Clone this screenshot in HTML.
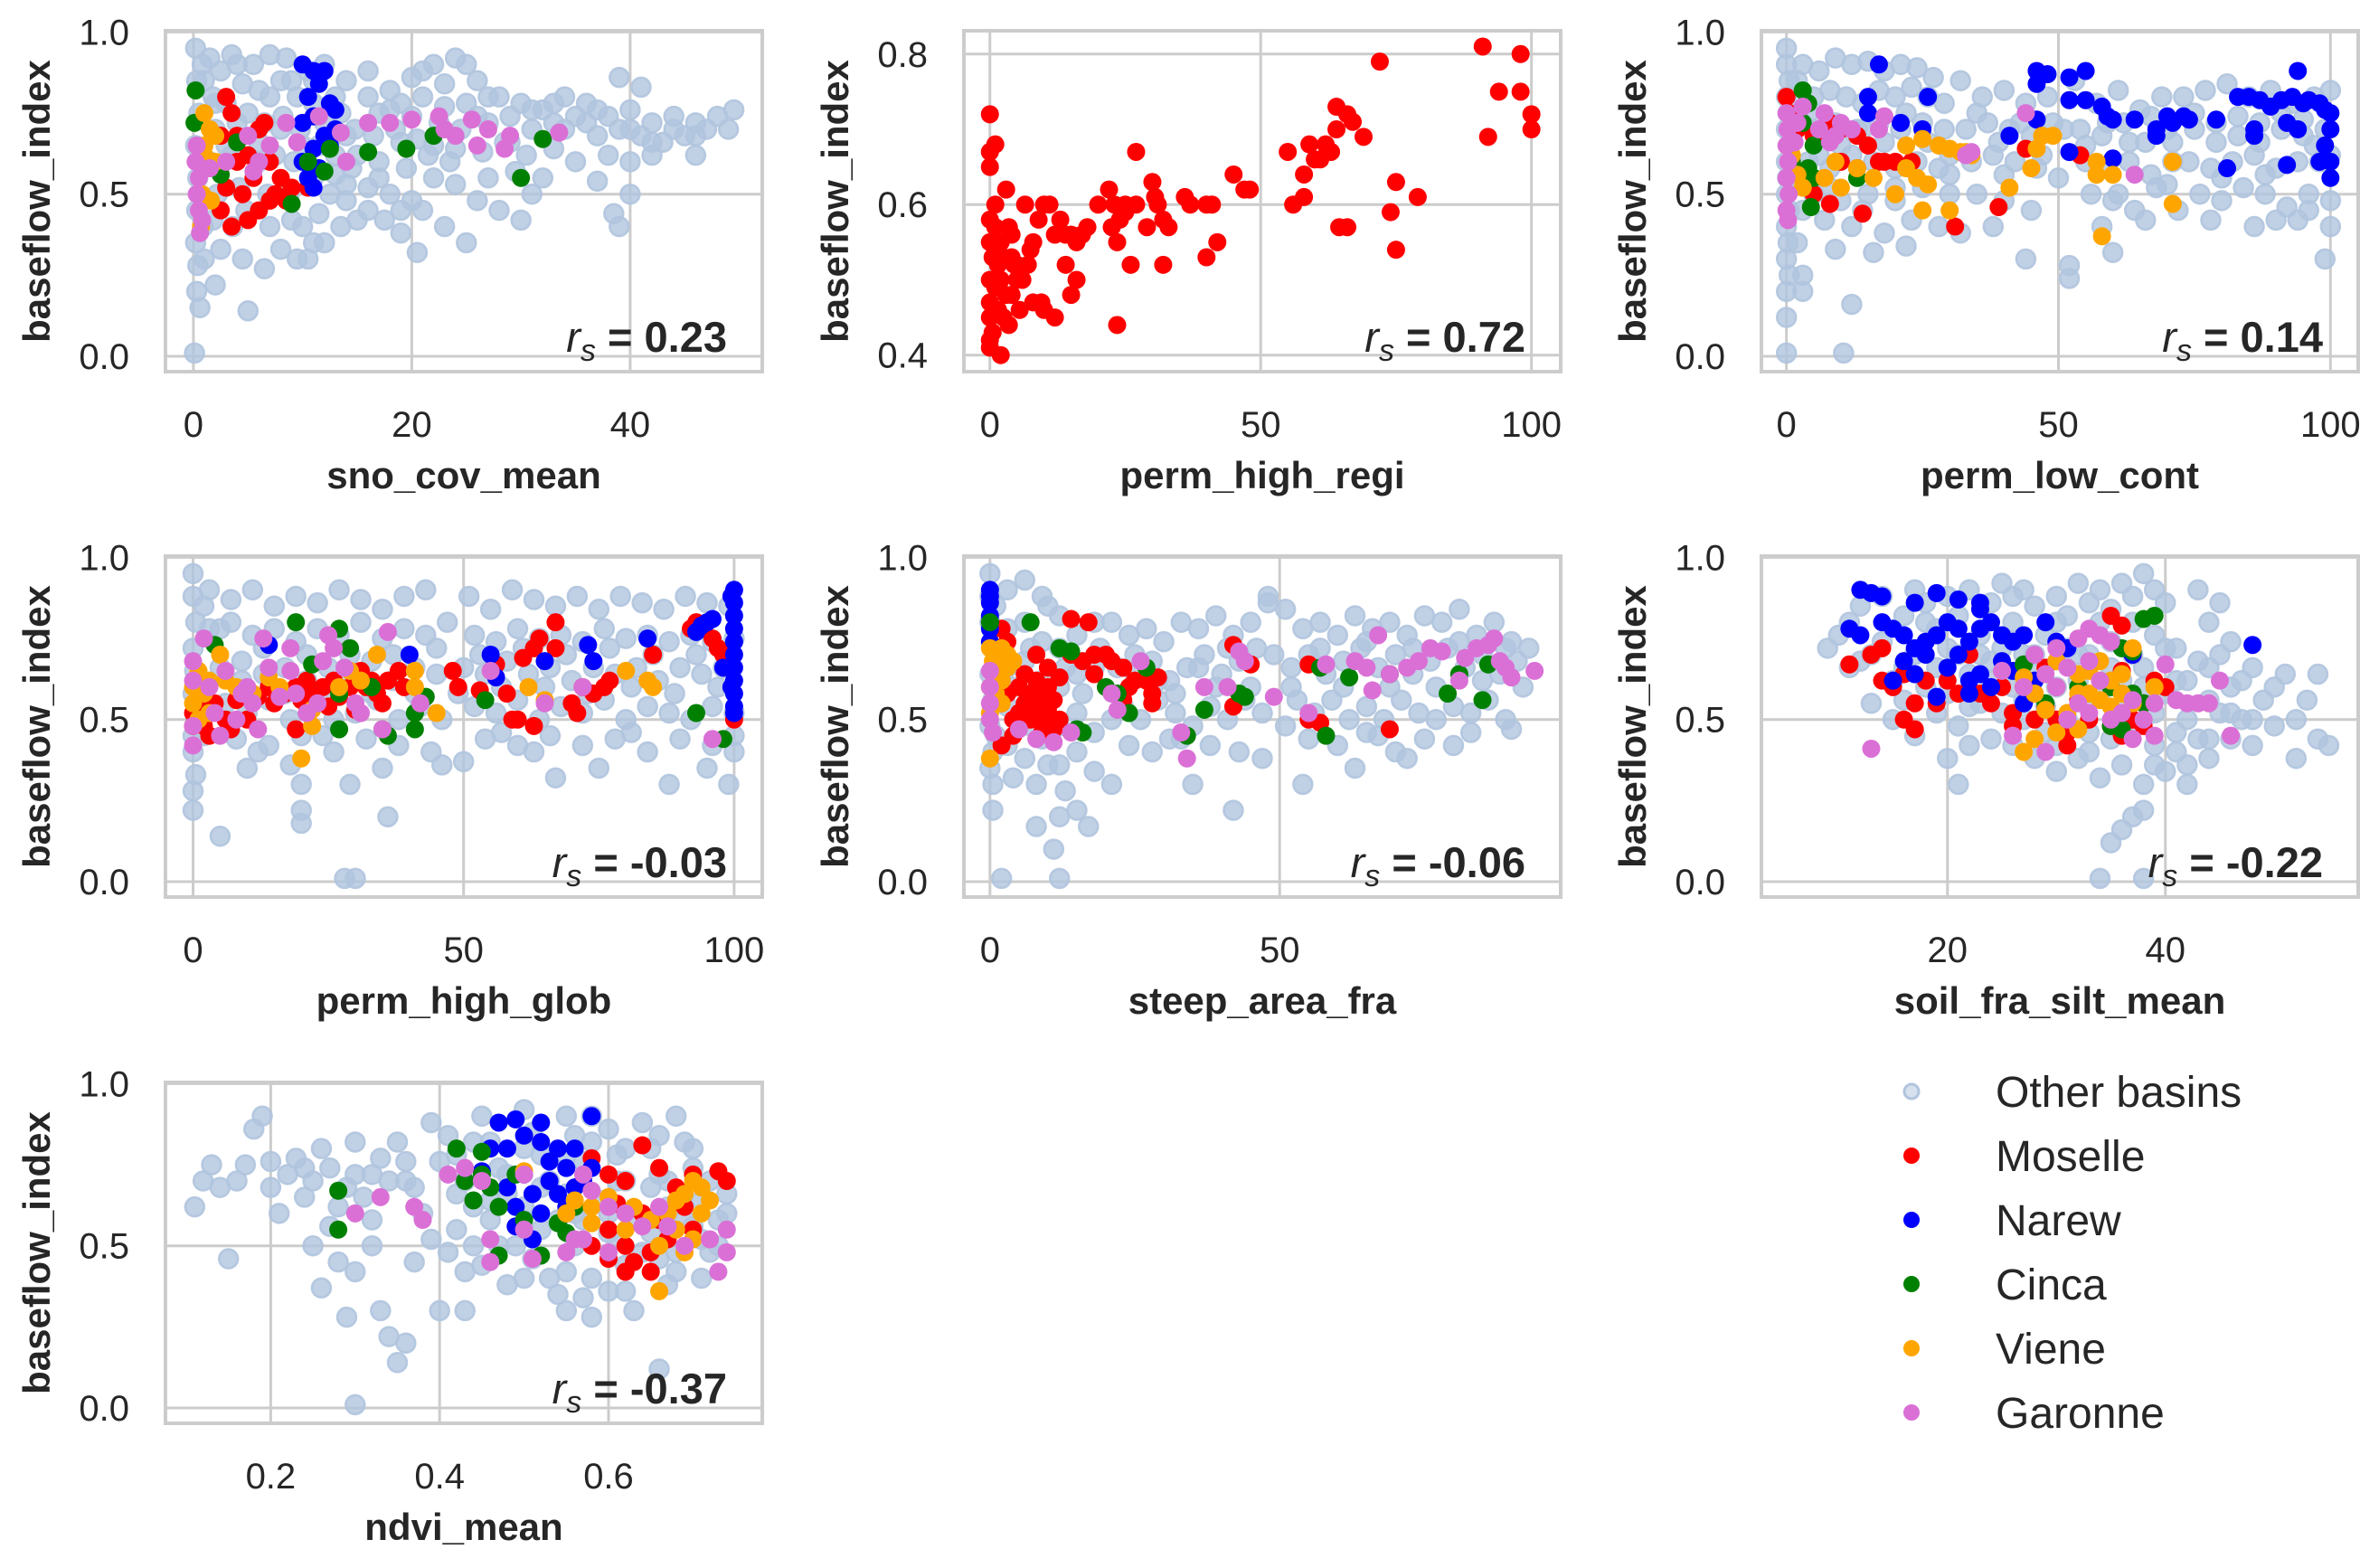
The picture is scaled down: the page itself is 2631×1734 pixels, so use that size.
<!DOCTYPE html>
<html><head><meta charset="utf-8"><style>
html,body{margin:0;padding:0;background:#fff;}
svg{display:block;}
text{font-family:"Liberation Sans",Arial,sans-serif;fill:#262626;}
</style></head><body>
<svg id="fig" width="2631" height="1734" viewBox="0 0 2631 1734" xmlns="http://www.w3.org/2000/svg"></svg>
<script>
// ---------- data (x,y pairs) ----------
const p1Gray=[[0.2,0.95],[0.3,0.85],[0.5,0.75],[0.2,0.65],[0.4,0.55],[0.3,0.45],[0.2,0.35],[0.4,0.28],[0.3,0.2],[0.6,0.15],[0.1,0.01],[0.8,0.9],[0.9,0.4],[1.5,0.92],[2.5,0.88],[3.5,0.93],[1.8,0.8],[3,0.78],[4.5,0.84],[2,0.7],[4,0.72],[1.5,0.6],[3.5,0.62],[2.2,0.5],[4.2,0.52],[1.8,0.42],[3.6,0.4],[2.5,0.33],[4.5,0.3],[5,0.14],[4.8,0.45],[5.5,0.9],[7,0.93],[8.5,0.92],[6,0.82],[8,0.85],[9.5,0.8],[6.5,0.72],[8.2,0.74],[9.8,0.7],[6,0.6],[7.5,0.62],[9.2,0.6],[6.8,0.5],[8.8,0.5],[7,0.4],[9,0.42],[8,0.33],[6.5,0.27],[9.5,0.3],[10.5,0.88],[12,0.9],[14,0.85],[11,0.78],[13.5,0.75],[14.8,0.7],[11.5,0.65],[13,0.62],[14.5,0.58],[11,0.55],[12.5,0.5],[14,0.48],[11.5,0.44],[13.5,0.4],[12,0.35],[15,0.42],[10.5,0.3],[16,0.88],[18,0.82],[20,0.86],[22,0.9],[24,0.92],[25,0.9],[17,0.75],[19,0.78],[21,0.8],[23,0.77],[16.5,0.68],[18.5,0.7],[20.5,0.67],[22.5,0.72],[24.5,0.7],[17,0.6],[19.5,0.58],[21.5,0.62],[23.5,0.6],[16,0.52],[18,0.5],[20,0.48],[22,0.55],[24,0.53],[17.5,0.42],[19,0.38],[21,0.45],[23,0.4],[25,0.35],[20.5,0.32],[16,0.45],[26,0.85],[28,0.8],[30,0.78],[32,0.76],[34,0.8],[27,0.72],[29,0.74],[31,0.7],[33,0.72],[35,0.74],[26.5,0.63],[28.5,0.66],[30.5,0.62],[33,0.64],[27,0.55],[29.5,0.57],[32,0.55],[26,0.48],[28,0.45],[30,0.42],[35,0.6],[31,0.5],[36,0.78],[38,0.74],[40,0.76],[42,0.72],[44,0.7],[46,0.72],[48,0.74],[49.5,0.76],[37,0.68],[39,0.7],[41,0.68],[43,0.66],[45,0.68],[47,0.7],[49,0.7],[38,0.62],[40,0.6],[42,0.62],[46,0.62],[39,0.86],[41,0.83],[40,0.5],[37,0.54],[39,0.4],[38.5,0.44]];
const p1Gray2=[[1,0.85],[2,0.78],[3,0.65],[4,0.9],[5,0.75],[6,0.66],[7,0.8],[8,0.7],[9,0.85],[10,0.65],[11,0.85],[12,0.72],[13,0.8],[14,0.68],[15,0.62],[14,0.53],[16,0.8],[18,0.76],[19,0.66],[20,0.74],[21,0.88],[22,0.65],[23,0.84],[25,0.78],[24,0.64],[26,0.74],[27,0.8],[29,0.66],[31,0.76],[33,0.78],[34,0.7],[36,0.72],[37,0.76],[40,0.7],[42,0.66],[44,0.74],[46,0.68],[1,0.3],[2,0.22],[13,0.56],[17,0.55],[19,0.45],[10,0.4],[11,0.35]];
const p1Red=[[3,0.8],[3.5,0.75],[2.5,0.68],[4,0.6],[3,0.52],[2.5,0.45],[4.5,0.5],[5,0.62],[6,0.7],[6.5,0.72],[5.5,0.55],[7,0.6],[7.5,0.5],[6,0.45],[8,0.55],[8.5,0.48],[9,0.52],[5,0.42],[3.5,0.4],[10.5,0.52],[4,0.68],[7,0.48]];
const p1Blue=[[10,0.9],[11,0.88],[12,0.88],[11.5,0.84],[10.5,0.8],[12.5,0.78],[11,0.74],[13,0.76],[10,0.72],[12,0.68],[11,0.64],[10,0.6],[12.5,0.65],[11.5,0.58],[10.5,0.55],[11,0.52],[13,0.7]];
const p1Green=[[0.2,0.82],[0.1,0.72],[2.5,0.56],[9,0.47],[10.5,0.6],[12,0.57],[12.5,0.64],[16,0.63],[19.5,0.64],[22,0.68],[30,0.55],[32,0.67],[4,0.66]];
const p1Orange=[[1,0.75],[1.5,0.7],[1,0.65],[2,0.68],[1.2,0.58],[2,0.6],[0.8,0.5],[1.6,0.48],[0.7,0.4],[1,0.62]];
const p1Pink=[[0.3,0.65],[0.2,0.6],[0.5,0.55],[0.3,0.5],[0.5,0.45],[0.8,0.42],[1.5,0.58],[3,0.6],[5.5,0.57],[6,0.6],[5,0.68],[7,0.65],[8.5,0.72],[9.5,0.66],[11.5,0.74],[13.5,0.69],[14,0.6],[16,0.72],[18,0.72],[20,0.73],[22.5,0.74],[23,0.7],[24,0.68],[25.5,0.73],[26,0.65],[27,0.7],[28.5,0.64],[29,0.68],[33.5,0.69],[0.6,0.38]];

const p2Red=[[0,0.72],[0,0.67],[0,0.65],[1,0.68],[1,0.6],[0,0.58],[1,0.57],[0,0.55],[0.5,0.53],[1.5,0.52],[0,0.5],[1,0.49],[0,0.47],[1.5,0.46],[0,0.45],[0.5,0.43],[0,0.42],[0,0.41],[2,0.4],[2,0.55],[2.5,0.53],[2,0.5],[3,0.48],[2.5,0.45],[3.5,0.44],[3.5,0.57],[4,0.56],[4.5,0.52],[5,0.52],[4,0.48],[5,0.5],[6,0.5],[7,0.52],[7.5,0.54],[8,0.55],[5.5,0.46],[8,0.47],[9.5,0.47],[9,0.58],[10,0.6],[11,0.6],[12,0.56],[13,0.58],[14,0.56],[15,0.56],[16,0.55],[14,0.52],[16,0.5],[17,0.56],[18,0.57],[20,0.6],[22,0.62],[23,0.6],[24,0.58],[25,0.6],[22.5,0.57],[23.5,0.55],[25,0.59],[27,0.6],[27,0.67],[29,0.57],[30.5,0.61],[30,0.63],[31,0.6],[32,0.58],[33,0.57],[26,0.52],[32,0.52],[40,0.53],[42,0.55],[37,0.6],[40,0.6],[41,0.6],[36,0.61],[45,0.64],[48,0.62],[47,0.62],[23.5,0.44],[12,0.45],[10,0.46],[15,0.48],[55,0.67],[56,0.6],[58,0.61],[59,0.68],[60,0.66],[61,0.66],[58,0.64],[62,0.68],[63,0.67],[64,0.73],[64,0.7],[66,0.72],[67,0.71],[69,0.69],[72,0.79],[64.5,0.57],[66,0.57],[74,0.59],[75,0.63],[75,0.54],[79,0.61],[91,0.81],[92,0.69],[94,0.75],[98,0.8],[98,0.75],[100,0.72],[100,0.7],[3,0.62],[6.5,0.6],[4,0.53]];

const p3Gray=[[0,0.95],[0,0.9],[0.5,0.85],[0,0.8],[0.3,0.75],[0,0.7],[0.5,0.65],[0,0.6],[0.2,0.55],[0,0.5],[0.5,0.45],[0,0.4],[0.3,0.35],[0,0.3],[0.5,0.25],[0,0.2],[0,0.12],[0,0.01],[10.5,0.01],[3,0.2],[3,0.25],[12,0.16],[3,0.9],[6,0.88],[9,0.92],[12,0.9],[15,0.91],[18,0.88],[21,0.9],[24,0.89],[27,0.86],[5,0.8],[8,0.82],[11,0.8],[14,0.78],[17,0.82],[20,0.8],[23,0.83],[26,0.8],[29,0.78],[5,0.7],[9,0.72],[13,0.7],[17,0.72],[21,0.7],[25,0.72],[29,0.7],[4,0.6],[8,0.58],[12,0.62],[16,0.6],[20,0.58],[24,0.6],[28,0.58],[5,0.5],[10,0.48],[15,0.5],[20,0.48],[25,0.52],[30,0.5],[7,0.42],[12,0.4],[18,0.38],[23,0.42],[28,0.4],[9,0.33],[16,0.32],[22,0.34],[32,0.85],[36,0.8],[40,0.82],[44,0.78],[48,0.8],[33,0.7],[37,0.72],[41,0.7],[45,0.68],[49,0.72],[34,0.6],[38,0.62],[42,0.6],[46,0.58],[35,0.5],[40,0.48],[45,0.45],[38,0.4],[32,0.38],[44,0.3],[52,0.28],[52,0.24],[53,0.85],[57,0.78],[61,0.82],[65,0.76],[69,0.8],[54,0.7],[58,0.68],[62,0.72],[66,0.66],[70,0.7],[55,0.6],[59,0.58],[63,0.6],[67,0.56],[71,0.6],[56,0.5],[60,0.48],[64,0.45],[68,0.52],[58,0.4],[66,0.42],[60,0.32],[73,0.8],[77,0.82],[81,0.84],[85,0.8],[89,0.82],[93,0.78],[97,0.8],[100,0.82],[75,0.7],[79,0.72],[83,0.68],[87,0.72],[91,0.7],[95,0.68],[99,0.7],[74,0.6],[78,0.58],[82,0.6],[86,0.62],[90,0.58],[94,0.6],[98,0.6],[76,0.5],[80,0.48],[84,0.52],[88,0.5],[92,0.46],[96,0.5],[100,0.48],[78,0.42],[86,0.4],[94,0.42],[100,0.4],[99,0.3],[90,0.42],[72,0.45]];
const p3Gray2=[[2,0.85],[4,0.75],[6,0.62],[8,0.52],[10,0.65],[14,0.7],[18,0.66],[22,0.75],[26,0.66],[30,0.62],[35,0.75],[39,0.66],[43,0.72],[47,0.62],[51,0.7],[55,0.65],[59,0.72],[63,0.66],[67,0.74],[71,0.66],[75,0.75],[79,0.66],[83,0.74],[87,0.66],[91,0.75],[95,0.73],[97,0.65],[100,0.62],[88,0.56],[80,0.55],[70,0.53],[50,0.55],[40,0.56],[30,0.56],[20,0.52],[14,0.45],[3,0.45],[2,0.35],[61,0.5],[96,0.45]];
const p3Red=[[0,0.8],[0.5,0.75],[2,0.7],[5,0.68],[8,0.72],[10,0.7],[13,0.68],[15,0.65],[10,0.6],[13,0.58],[17,0.6],[5,0.5],[8,0.47],[14,0.44],[20,0.6],[23,0.6],[44,0.64],[54,0.62],[39,0.46],[31,0.4],[18,0.6]];
const p3Blue=[[17,0.9],[26,0.8],[21,0.72],[15,0.75],[15,0.8],[46,0.88],[48,0.87],[52,0.86],[55,0.88],[46,0.84],[52,0.79],[55,0.79],[58,0.77],[59,0.74],[60,0.73],[64,0.73],[70,0.74],[71,0.72],[73,0.74],[74,0.73],[79,0.73],[83,0.8],[85,0.8],[87,0.79],[89,0.77],[91,0.79],[93,0.8],[95,0.78],[96,0.79],[98,0.78],[99,0.76],[100,0.75],[94,0.88],[100,0.7],[99,0.65],[100,0.6],[100,0.55],[98,0.6],[94,0.7],[92,0.72],[68,0.68],[68,0.7],[86,0.7],[86,0.68],[41,0.68],[52,0.63],[60,0.61],[81,0.58],[92,0.59],[46,0.73],[25,0.7]];
const p3Green=[[3,0.82],[4,0.78],[3,0.72],[5,0.65],[4,0.58],[5,0.55],[4.5,0.46],[13,0.55],[1,0.6]];
const p3Orange=[[1,0.62],[2,0.56],[3,0.52],[7,0.55],[9,0.6],[10,0.52],[13,0.58],[16,0.55],[22,0.58],[24,0.55],[26,0.53],[22,0.65],[25,0.67],[28,0.65],[30,0.64],[32,0.63],[34,0.62],[20,0.5],[25,0.45],[30,0.45],[41,0.52],[45,0.58],[46,0.64],[47,0.68],[49,0.68],[57,0.6],[57,0.56],[60,0.56],[71,0.6],[71,0.47],[58,0.37],[33,0.63]];
const p3Pink=[[0,0.75],[0.2,0.7],[0,0.65],[0.3,0.6],[0,0.55],[0.4,0.5],[0,0.45],[0.3,0.42],[2,0.72],[3,0.77],[6,0.7],[7,0.75],[9,0.68],[10,0.72],[12,0.7],[17,0.7],[18,0.74],[33,0.62],[34,0.63],[44,0.75],[64,0.56],[1.5,0.66],[8,0.66]];

const p4Gray=[[0,0.95],[0,0.88],[0.5,0.8],[0,0.72],[0.3,0.65],[0,0.58],[0.5,0.5],[0,0.45],[0,0.4],[0.5,0.33],[0,0.28],[0,0.22],[5,0.14],[28,0.01],[30,0.01],[20,0.18],[20,0.22],[29,0.3],[20,0.3],[36,0.2],[3,0.9],[7,0.87],[11,0.9],[15,0.85],[19,0.88],[23,0.86],[27,0.9],[31,0.87],[35,0.84],[39,0.88],[43,0.9],[3,0.78],[7,0.8],[11,0.76],[15,0.78],[19,0.74],[23,0.78],[27,0.76],[31,0.8],[35,0.75],[39,0.78],[43,0.76],[47,0.8],[5,0.66],[9,0.68],[13,0.64],[17,0.66],[21,0.62],[25,0.66],[29,0.64],[33,0.68],[37,0.62],[41,0.66],[45,0.64],[6,0.55],[10,0.52],[14,0.56],[18,0.5],[22,0.54],[26,0.5],[30,0.52],[34,0.56],[38,0.5],[42,0.54],[46,0.5],[8,0.44],[14,0.42],[20,0.45],[26,0.4],[32,0.44],[38,0.42],[44,0.4],[10,0.35],[18,0.36],[35,0.35],[46,0.36],[51,0.88],[55,0.84],[59,0.9],[63,0.87],[67,0.85],[71,0.88],[75,0.84],[79,0.88],[83,0.86],[87,0.84],[91,0.88],[95,0.86],[99,0.85],[52,0.76],[56,0.74],[60,0.78],[64,0.75],[68,0.76],[72,0.74],[76,0.78],[80,0.75],[84,0.76],[88,0.74],[92,0.76],[96,0.74],[50,0.66],[54,0.64],[58,0.68],[62,0.64],[66,0.66],[70,0.62],[74,0.66],[78,0.64],[82,0.66],[86,0.62],[90,0.66],[94,0.64],[98,0.66],[52,0.54],[56,0.52],[60,0.56],[64,0.5],[68,0.54],[72,0.52],[76,0.56],[80,0.5],[84,0.54],[88,0.52],[92,0.5],[96,0.54],[100,0.52],[54,0.44],[60,0.42],[66,0.45],[72,0.42],[78,0.44],[84,0.4],[90,0.44],[96,0.42],[100,0.4],[50,0.37],[67,0.32],[75,0.35],[88,0.3],[95,0.35],[99,0.3]];
const p4Gray2=[[2,0.85],[1,0.62],[2,0.45],[5,0.78],[9,0.62],[13,0.72],[17,0.58],[21,0.7],[25,0.58],[29,0.7],[33,0.58],[37,0.7],[41,0.58],[45,0.72],[49,0.58],[53,0.7],[57,0.6],[61,0.72],[65,0.6],[69,0.7],[73,0.58],[77,0.72],[81,0.6],[85,0.7],[89,0.58],[93,0.7],[97,0.6],[100,0.75],[100,0.45],[57,0.46],[63,0.4],[81,0.46],[24,0.45],[12,0.4]];
const p4Red=[[0,0.48],[0,0.52],[1,0.55],[2,0.48],[3,0.45],[4,0.55],[6,0.5],[7,0.47],[8,0.56],[10,0.5],[12,0.57],[14,0.6],[15,0.55],[17,0.58],[19,0.6],[20,0.56],[21,0.62],[22,0.58],[24,0.6],[25,0.54],[26,0.62],[27,0.57],[29,0.6],[31,0.65],[32,0.6],[33,0.62],[34,0.58],[35,0.55],[36,0.62],[38,0.65],[39,0.6],[19,0.47],[30,0.53],[48,0.65],[49,0.6],[53,0.59],[56,0.67],[58,0.58],[60,0.5],[61,0.69],[63,0.72],[64,0.75],[67,0.72],[67,0.8],[70,0.55],[71,0.52],[72,0.6],[74,0.58],[76,0.6],[77,0.62],[85,0.7],[63,0.48],[92,0.78],[93,0.8],[96,0.75],[97,0.72],[98,0.7],[100,0.5],[59,0.5]];
const p4Blue=[[100,0.9],[100,0.86],[100,0.82],[100,0.78],[100,0.74],[100,0.7],[100,0.66],[100,0.62],[100,0.58],[100,0.54],[100,0.52],[99.5,0.88],[99.5,0.6],[95,0.8],[96,0.81],[94,0.79],[93,0.77],[84,0.75],[73,0.73],[74,0.68],[55,0.7],[56,0.63],[65,0.68],[14,0.73],[40,0.7],[98,0.66]];
const p4Green=[[4,0.73],[19,0.8],[27,0.78],[29,0.72],[22,0.67],[27,0.58],[33,0.6],[35,0.47],[36,0.45],[41,0.52],[41,0.47],[43,0.57],[54,0.56],[27,0.47],[93,0.52],[98,0.44]];
const p4Orange=[[0,0.6],[0,0.55],[1,0.65],[2,0.58],[3,0.62],[1,0.5],[3,0.52],[5,0.7],[6,0.62],[8,0.6],[11,0.58],[14,0.63],[16,0.6],[22,0.53],[22,0.48],[27,0.6],[29,0.65],[31,0.62],[34,0.7],[41,0.65],[41,0.6],[45,0.52],[62,0.6],[65,0.56],[80,0.65],[84,0.62],[85,0.6],[20,0.38]];
const p4Pink=[[0,0.68],[0,0.62],[0,0.48],[0,0.42],[2,0.75],[3,0.6],[4,0.52],[5,0.45],[6,0.65],[8,0.5],[9,0.58],[10,0.6],[11,0.55],[12,0.47],[13,0.75],[14,0.66],[16,0.57],[18,0.72],[18,0.65],[19,0.58],[21,0.52],[23,0.55],[24,0.68],[25,0.76],[26,0.72],[28,0.66],[30,0.55],[31,0.52],[35,0.47],[36,0.77],[42,0.55],[55,0.65],[65,0.55],[72,0.6],[96,0.44]];

const p5Gray=[[0,0.95],[0,0.88],[0,0.8],[0.5,0.72],[0,0.64],[0.5,0.56],[0,0.48],[0.5,0.4],[0,0.35],[0.5,0.3],[0.5,0.22],[2,0.01],[12,0.01],[8,0.17],[11,0.1],[12,0.2],[15,0.22],[17,0.17],[3,0.9],[6,0.93],[9,0.88],[12,0.82],[3,0.78],[6,0.8],[9,0.74],[12,0.72],[15,0.76],[18,0.8],[3,0.66],[6,0.68],[9,0.62],[12,0.6],[15,0.64],[18,0.66],[3,0.54],[6,0.5],[9,0.56],[12,0.48],[15,0.52],[18,0.46],[3,0.42],[6,0.38],[9,0.44],[12,0.36],[15,0.4],[18,0.34],[4,0.32],[8,0.3],[13,0.28],[21,0.3],[21,0.8],[24,0.76],[27,0.78],[30,0.74],[33,0.8],[36,0.78],[39,0.82],[42,0.76],[45,0.8],[48,0.88],[22,0.66],[25,0.64],[28,0.68],[31,0.62],[34,0.66],[37,0.7],[40,0.64],[43,0.68],[46,0.72],[23,0.54],[26,0.5],[29,0.56],[32,0.52],[35,0.48],[38,0.54],[41,0.5],[44,0.56],[47,0.52],[24,0.42],[28,0.4],[33,0.44],[38,0.42],[43,0.4],[47,0.38],[35,0.3],[42,0.22],[51,0.84],[54,0.78],[57,0.8],[60,0.76],[63,0.82],[66,0.78],[69,0.8],[72,0.76],[75,0.82],[78,0.8],[81,0.84],[84,0.76],[87,0.8],[90,0.74],[93,0.72],[52,0.66],[55,0.7],[58,0.64],[61,0.68],[64,0.72],[67,0.66],[70,0.7],[73,0.64],[76,0.68],[79,0.72],[82,0.66],[85,0.7],[88,0.64],[91,0.68],[53,0.56],[56,0.52],[59,0.56],[62,0.5],[65,0.54],[68,0.5],[71,0.56],[74,0.52],[77,0.5],[80,0.54],[83,0.52],[86,0.56],[89,0.5],[55,0.44],[60,0.42],[65,0.46],[70,0.4],[75,0.44],[80,0.42],[54,0.3],[63,0.35],[72,0.38],[48,0.86],[90,0.47]];
const p5Gray2=[[1,0.85],[2,0.7],[1,0.45],[4,0.6],[7,0.72],[10,0.85],[13,0.66],[16,0.58],[19,0.72],[21,0.5],[25,0.7],[29,0.62],[32,0.58],[36,0.66],[39,0.6],[41,0.72],[45,0.6],[49,0.7],[52,0.6],[57,0.72],[61,0.6],[65,0.74],[69,0.6],[73,0.72],[77,0.6],[81,0.74],[85,0.62],[89,0.72],[92,0.6],[31,0.44],[51,0.48],[67,0.45],[83,0.46],[10,0.36],[7,0.48]];
const p5Red=[[2,0.78],[3,0.74],[2,0.62],[2,0.55],[3,0.58],[4,0.5],[5,0.6],[6,0.55],[5,0.52],[6,0.64],[7,0.58],[7,0.5],[8,0.62],[8,0.54],[9,0.58],[9,0.5],[10,0.6],[10,0.53],[11,0.56],[12,0.63],[12,0.5],[4,0.45],[2,0.42],[8,0.7],[10,0.66],[14,0.81],[17,0.8],[14,0.7],[16,0.68],[18,0.64],[18,0.7],[20,0.7],[21,0.68],[23,0.66],[24,0.6],[23,0.56],[25,0.62],[27,0.62],[28,0.58],[28,0.55],[29,0.63],[42,0.73],[45,0.67],[42,0.54],[55,0.67],[55,0.5],[57,0.49],[69,0.47],[11,0.47],[9,0.46]];
const p5Blue=[[0,0.9],[0,0.86],[0,0.82],[0,0.78],[0,0.74],[0,0.88],[0,0.8]];
const p5Green=[[0,0.8],[7,0.8],[12,0.72],[14,0.71],[20,0.6],[27,0.66],[22,0.58],[15,0.47],[24,0.52],[37,0.53],[34,0.45],[43,0.58],[44,0.57],[57,0.66],[62,0.63],[58,0.45],[69,0.64],[81,0.64],[79,0.58],[86,0.67],[85,0.56],[16,0.46]];
const p5Orange=[[0,0.72],[0.5,0.68],[1,0.7],[2,0.72],[1,0.65],[2,0.62],[3,0.66],[4,0.68],[0,0.6],[1,0.58],[2,0.55],[0,0.52],[0,0.38],[3,0.7]];
const p5Pink=[[0,0.65],[0,0.6],[0,0.55],[0,0.5],[0.5,0.46],[5,0.47],[8,0.44],[11,0.43],[14,0.46],[21,0.58],[22,0.53],[26,0.68],[33,0.46],[34,0.38],[37,0.6],[41,0.6],[43,0.71],[44,0.68],[49,0.57],[55,0.52],[58,0.67],[63,0.68],[65,0.66],[66,0.59],[67,0.76],[69,0.64],[72,0.66],[74,0.68],[76,0.72],[78,0.71],[81,0.62],[82,0.69],[84,0.72],[86,0.73],[87,0.75],[88,0.68],[90,0.63],[94,0.65],[89,0.66]];

const p6Gray=[[9,0.72],[10,0.76],[11,0.8],[12,0.85],[12,0.68],[14,0.88],[14,0.74],[15,0.62],[13,0.55],[15,0.5],[16,0.82],[17,0.9],[18,0.86],[19,0.78],[17,0.7],[18,0.6],[16,0.56],[19,0.52],[17,0.45],[20,0.88],[21,0.82],[22,0.9],[23,0.76],[21,0.7],[22,0.64],[20,0.58],[23,0.55],[21,0.48],[22,0.42],[20,0.38],[21,0.3],[24,0.86],[25,0.92],[26,0.8],[27,0.9],[28,0.85],[25,0.72],[27,0.7],[29,0.76],[24,0.62],[26,0.6],[28,0.64],[25,0.52],[27,0.5],[29,0.54],[24,0.44],[26,0.42],[28,0.38],[30,0.34],[30,0.88],[31,0.82],[32,0.92],[33,0.86],[34,0.9],[35,0.84],[36,0.92],[37,0.88],[38,0.95],[39,0.9],[40,0.86],[31,0.72],[33,0.7],[35,0.74],[37,0.7],[39,0.76],[41,0.72],[30,0.6],[32,0.62],[34,0.58],[36,0.62],[38,0.6],[40,0.58],[42,0.62],[31,0.5],[33,0.46],[35,0.44],[37,0.48],[39,0.42],[41,0.46],[43,0.44],[32,0.38],[34,0.32],[36,0.36],[38,0.3],[40,0.34],[42,0.36],[38,0.22],[37,0.2],[36,0.16],[35,0.12],[34,0.01],[38,0.01],[42,0.3],[44,0.8],[45,0.86],[46,0.74],[44,0.66],[46,0.6],[48,0.66],[45,0.52],[47,0.5],[49,0.56],[44,0.44],[48,0.42],[50,0.6],[51,0.64],[52,0.5],[53,0.56],[54,0.44],[55,0.42],[54,0.64],[52,0.38],[50,0.48],[43,0.9],[13,0.7],[11,0.66]];
const p6Gray2=[[16,0.66],[18,0.8],[20,0.72],[22,0.54],[24,0.68],[26,0.88],[28,0.7],[29,0.46],[30,0.8],[32,0.7],[33,0.56],[34,0.8],[35,0.66],[36,0.54],[37,0.8],[38,0.66],[39,0.52],[40,0.72],[41,0.62],[42,0.5],[43,0.68],[44,0.56],[45,0.7],[46,0.52],[47,0.62],[48,0.5],[30,0.42],[33,0.4],[39,0.36],[41,0.4],[44,0.38],[46,0.44],[19,0.66],[23,0.7],[27,0.56]];
const p6Red=[[13,0.7],[11,0.67],[14,0.72],[14,0.62],[15,0.6],[16,0.64],[17,0.55],[16,0.5],[17,0.47],[18,0.62],[19,0.55],[20,0.62],[21,0.58],[22,0.7],[23,0.58],[24,0.55],[25,0.6],[26,0.52],[27,0.6],[28,0.58],[29,0.54],[30,0.5],[31,0.46],[31,0.42],[32,0.56],[26,0.48],[28,0.5],[35,0.82],[36,0.79],[37,0.7],[36,0.65],[38,0.55],[37,0.5],[36,0.45],[35,0.48],[39,0.62],[33,0.5],[30,0.6],[40,0.6],[38,0.48],[29,0.66]];
const p6Blue=[[12,0.9],[13,0.89],[14,0.88],[17,0.86],[19,0.89],[21,0.87],[23,0.86],[14,0.8],[15,0.78],[16,0.76],[11,0.78],[12,0.76],[17,0.72],[18,0.74],[19,0.76],[20,0.8],[21,0.78],[22,0.74],[23,0.78],[24,0.8],[25,0.76],[26,0.74],[27,0.76],[29,0.8],[30,0.74],[16,0.68],[17,0.64],[18,0.7],[20,0.66],[21,0.7],[22,0.62],[23,0.64],[24,0.6],[26,0.65],[28,0.62],[25,0.68],[27,0.55],[19,0.57],[22,0.58],[15,0.62],[30,0.68],[31,0.72],[37,0.7],[48,0.73],[23,0.84]];
const p6Green=[[27,0.67],[29,0.55],[32,0.6],[35,0.6],[36,0.72],[37,0.71],[38,0.81],[39,0.82],[37,0.58],[38,0.55],[36,0.47],[35,0.48]];
const p6Orange=[[27,0.63],[28,0.58],[29,0.53],[30,0.46],[31,0.52],[32,0.58],[33,0.65],[34,0.62],[33,0.58],[35,0.62],[34,0.56],[35,0.54],[36,0.58],[37,0.55],[32,0.47],[28,0.44],[37,0.72],[34,0.68],[39,0.6],[27,0.4],[36,0.64],[30,0.68],[32,0.64]];
const p6Pink=[[13,0.41],[26,0.45],[27,0.6],[28,0.7],[29,0.64],[30,0.6],[31,0.66],[30,0.72],[32,0.75],[33,0.78],[34,0.76],[35,0.74],[33,0.68],[34,0.62],[32,0.55],[33,0.52],[35,0.5],[36,0.52],[37,0.56],[38,0.5],[39,0.45],[40,0.67],[42,0.55],[43,0.55],[44,0.55],[45,0.62],[46,0.45],[25,0.65],[31,0.5],[29,0.4],[37,0.44],[39,0.55],[41,0.56]];

const p7Gray=[[0.11,0.62],[0.12,0.7],[0.13,0.75],[0.14,0.68],[0.15,0.46],[0.16,0.7],[0.17,0.75],[0.18,0.86],[0.19,0.9],[0.2,0.68],[0.21,0.6],[0.22,0.72],[0.23,0.77],[0.24,0.65],[0.25,0.7],[0.26,0.8],[0.27,0.74],[0.28,0.62],[0.29,0.68],[0.3,0.82],[0.3,0.72],[0.31,0.65],[0.32,0.58],[0.33,0.77],[0.34,0.7],[0.25,0.5],[0.27,0.56],[0.28,0.45],[0.3,0.42],[0.32,0.5],[0.33,0.3],[0.34,0.22],[0.35,0.14],[0.36,0.2],[0.3,0.01],[0.29,0.28],[0.26,0.37],[0.4,0.3],[0.35,0.82],[0.36,0.76],[0.37,0.68],[0.38,0.6],[0.39,0.52],[0.37,0.45],[0.39,0.88],[0.41,0.84],[0.42,0.78],[0.43,0.7],[0.44,0.62],[0.42,0.55],[0.41,0.48],[0.43,0.42],[0.45,0.9],[0.46,0.82],[0.47,0.74],[0.48,0.66],[0.46,0.58],[0.47,0.5],[0.45,0.44],[0.48,0.38],[0.5,0.92],[0.51,0.85],[0.52,0.78],[0.53,0.7],[0.5,0.62],[0.52,0.55],[0.51,0.46],[0.53,0.4],[0.55,0.9],[0.56,0.84],[0.57,0.76],[0.55,0.66],[0.57,0.58],[0.56,0.5],[0.55,0.42],[0.57,0.34],[0.58,0.9],[0.6,0.86],[0.61,0.78],[0.62,0.7],[0.6,0.6],[0.61,0.52],[0.62,0.44],[0.6,0.36],[0.63,0.3],[0.64,0.88],[0.65,0.8],[0.66,0.72],[0.67,0.62],[0.65,0.54],[0.66,0.46],[0.67,0.38],[0.68,0.9],[0.69,0.82],[0.7,0.74],[0.71,0.64],[0.7,0.56],[0.72,0.48],[0.71,0.4],[0.73,0.58],[0.74,0.66],[0.66,0.12],[0.54,0.35],[0.58,0.28],[0.43,0.3]];
const p7Gray2=[[0.4,0.76],[0.42,0.66],[0.44,0.82],[0.46,0.64],[0.48,0.72],[0.49,0.5],[0.5,0.8],[0.52,0.68],[0.54,0.58],[0.55,0.78],[0.56,0.6],[0.58,0.82],[0.59,0.64],[0.6,0.54],[0.61,0.7],[0.62,0.8],[0.63,0.58],[0.64,0.48],[0.65,0.68],[0.66,0.84],[0.67,0.7],[0.68,0.48],[0.69,0.58],[0.7,0.8],[0.71,0.52],[0.72,0.7],[0.73,0.5],[0.74,0.6],[0.58,0.4],[0.62,0.36],[0.5,0.4],[0.44,0.5],[0.36,0.7],[0.32,0.72],[0.24,0.74],[0.2,0.76],[0.55,0.3],[0.68,0.42]];
const p7Red=[[0.58,0.77],[0.6,0.72],[0.62,0.7],[0.64,0.81],[0.66,0.74],[0.68,0.68],[0.7,0.72],[0.73,0.73],[0.74,0.7],[0.6,0.55],[0.62,0.5],[0.63,0.45],[0.65,0.48],[0.67,0.52],[0.6,0.46],[0.62,0.42],[0.64,0.6],[0.66,0.58],[0.69,0.62],[0.7,0.55],[0.58,0.5],[0.61,0.63],[0.65,0.42]];
const p7Blue=[[0.47,0.88],[0.49,0.89],[0.52,0.88],[0.58,0.9],[0.5,0.84],[0.52,0.82],[0.46,0.8],[0.48,0.8],[0.54,0.8],[0.56,0.8],[0.53,0.76],[0.55,0.74],[0.5,0.72],[0.53,0.7],[0.45,0.73],[0.48,0.68],[0.51,0.66],[0.54,0.66],[0.57,0.7],[0.49,0.62],[0.52,0.6],[0.55,0.62],[0.49,0.56],[0.51,0.52],[0.58,0.74],[0.56,0.68]];
const p7Green=[[0.28,0.67],[0.28,0.55],[0.42,0.8],[0.45,0.79],[0.43,0.7],[0.44,0.64],[0.46,0.68],[0.47,0.62],[0.47,0.47],[0.49,0.72],[0.5,0.58],[0.52,0.47],[0.54,0.57],[0.55,0.54],[0.45,0.72],[0.56,0.62]];
const p7Orange=[[0.55,0.6],[0.56,0.64],[0.58,0.62],[0.6,0.65],[0.63,0.62],[0.65,0.58],[0.67,0.6],[0.68,0.64],[0.69,0.66],[0.7,0.7],[0.71,0.68],[0.72,0.64],[0.68,0.55],[0.7,0.52],[0.66,0.5],[0.58,0.57],[0.69,0.48],[0.71,0.6],[0.66,0.36],[0.5,0.73],[0.62,0.55]];
const p7Pink=[[0.3,0.6],[0.33,0.65],[0.37,0.62],[0.38,0.58],[0.41,0.72],[0.43,0.74],[0.45,0.7],[0.46,0.52],[0.46,0.45],[0.5,0.55],[0.51,0.46],[0.5,0.72],[0.56,0.52],[0.55,0.48],[0.58,0.67],[0.57,0.72],[0.6,0.62],[0.6,0.48],[0.62,0.6],[0.64,0.56],[0.66,0.62],[0.67,0.56],[0.69,0.5],[0.72,0.52],[0.74,0.48],[0.73,0.42],[0.74,0.55],[0.57,0.52]];

const xLabels=["sno_cov_mean","perm_high_regi","perm_low_cont","perm_high_glob","steep_area_fra","soil_fra_silt_mean","ndvi_mean"];
const rsValues=["0.23","0.72","0.14","-0.03","-0.06","-0.22","-0.37"];
const xTicks=[[0,20,40],[0,50,100],[0,50,100],[0,50,100],[0,50],[20,40],[0.2,0.4,0.6]];
const yTicks01=[0,0.5,1.0];
const yTicksP2=[0.4,0.6,0.8];
const legendNames=["Other basins","Moselle","Narew","Cinca","Viene","Garonne"];

// ---------- layout ----------
const NS="http://www.w3.org/2000/svg";
const svg=document.getElementById('fig');
function mk(tag,attrs,parent){const e=document.createElementNS(NS,tag);for(const k in attrs)e.setAttribute(k,attrs[k]);(parent||svg).appendChild(e);return e;}
const colors={gray:"#b0c4de",red:"#ff0000",blue:"#0000ff",green:"#008000",orange:"#ffa500",pink:"#da70d6"};
const cols=[183,1066,1948], rows=[34,615,1197], W=660, H=377;
const panels=[
 {c:0,r:0,xd:[-2.56,52.1],yd:[-0.0475,1.004],yt:yTicks01,s:{gray:p1Gray.concat(p1Gray2),red:p1Red,blue:p1Blue,green:p1Green,orange:p1Orange,pink:p1Pink}},
 {c:1,r:0,xd:[-4.8,105.4],yd:[0.378,0.831],yt:yTicksP2,s:{red:p2Red}},
 {c:2,r:0,xd:[-4.6,105.1],yd:[-0.0475,1.004],yt:yTicks01,s:{gray:p3Gray.concat(p3Gray2),red:p3Red,blue:p3Blue,green:p3Green,orange:p3Orange,pink:p3Pink}},
 {c:0,r:1,xd:[-5.1,105.2],yd:[-0.0475,1.004],yt:yTicks01,s:{gray:p4Gray.concat(p4Gray2),red:p4Red,blue:p4Blue,green:p4Green,orange:p4Orange,pink:p4Pink}},
 {c:1,r:1,xd:[-4.5,98.5],yd:[-0.0475,1.004],yt:yTicks01,s:{gray:p5Gray.concat(p5Gray2),red:p5Red,blue:p5Blue,green:p5Green,orange:p5Orange,pink:p5Pink}},
 {c:2,r:1,xd:[2.92,57.7],yd:[-0.0475,1.004],yt:yTicks01,s:{gray:p6Gray.concat(p6Gray2),red:p6Red,blue:p6Blue,green:p6Green,orange:p6Orange,pink:p6Pink}},
 {c:0,r:2,xd:[0.0754,0.782],yd:[-0.0475,1.004],yt:yTicks01,s:{gray:p7Gray.concat(p7Gray2),red:p7Red,blue:p7Blue,green:p7Green,orange:p7Orange,pink:p7Pink}}
];
const order=["gray","red","blue","green","orange","pink"];
panels.forEach((p,i)=>{
  const L=cols[p.c], T=rows[p.r];
  const sx=v=>L+(v-p.xd[0])/(p.xd[1]-p.xd[0])*W;
  const sy=v=>T+H-(v-p.yd[0])/(p.yd[1]-p.yd[0])*H;
  const g=mk('g',{});
  
  
  const clipId='clip'+i;
  const cp=mk('clipPath',{id:clipId},g); mk('rect',{x:L,y:T,width:W,height:H},cp);
  xTicks[i].forEach(t=>{const l=mk('line',{x1:sx(t),x2:sx(t),y1:T,y2:T+H,stroke:"#cccccc","stroke-width":3},g);
    });
  p.yt.forEach(t=>{const l=mk('line',{x1:L,x2:L+W,y1:sy(t),y2:sy(t),stroke:"#cccccc","stroke-width":3},g);
    });
  const pg=mk('g',{'clip-path':'url(#'+clipId+')'},g);
  order.forEach(k=>{
    const arr=p.s[k]; if(!arr) return;
    const sg=mk('g',{},pg);
    
    
    arr.forEach(d=>{
      let c;
      if(k==='gray') c=mk('circle',{cx:sx(d[0]),cy:sy(d[1]),r:10.5,fill:colors.gray,'fill-opacity':0.8,stroke:colors.gray,'stroke-width':2.5,'stroke-opacity':0.9},sg);
      else c=mk('circle',{cx:sx(d[0]),cy:sy(d[1]),r:10,fill:colors[k]},sg);
      
      
    });
  });
  const fr=mk('rect',{x:L,y:T,width:W,height:H,fill:"none",stroke:"#cccccc","stroke-width":4},g);
  
  xTicks[i].forEach(t=>{const e=mk('text',{x:sx(t),y:T+H+72,'text-anchor':'middle','font-size':40},g);e.textContent=String(t);
    });
  p.yt.forEach(t=>{const e=mk('text',{x:L-40,y:sy(t)+14,'text-anchor':'end','font-size':40},g);e.textContent=t.toFixed(1);
    });
  const xl=mk('text',{x:L+W/2,y:T+H+129,'text-anchor':'middle','font-size':42,'font-weight':'bold'},g);xl.textContent=xLabels[i];
  
  const yc=T+H/2;
  const yl=mk('text',{x:0,y:0,'text-anchor':'middle','font-size':42,'font-weight':'bold',transform:'translate('+(L-128)+','+yc+') rotate(-90)'},g);yl.textContent="baseflow_index";
  
  const rs=mk('text',{x:L+W-39,y:T+H-22,'text-anchor':'end','font-size':47},g);
  
  const t1=mk('tspan',{'font-style':'italic'},rs);t1.textContent='r';
  const t2=mk('tspan',{'font-style':'italic','font-size':34,dy:10},rs);t2.textContent='s';
  const t3=mk('tspan',{'font-weight':'bold',dy:-10},rs);t3.textContent=' = '+rsValues[i];
});
const lg=mk('g',{});


const legendColors=[colors.gray,colors.red,colors.blue,colors.green,colors.orange,colors.pink];
legendNames.forEach((n,k)=>{
  const cy=1207+71*k;
  const eg=mk('g',{},lg);
  
  
  if(k===0) mk('circle',{cx:2114,cy:cy,r:8,fill:colors.gray,'fill-opacity':0.5,stroke:colors.gray,'stroke-width':3},eg);
  else mk('circle',{cx:2114,cy:cy,r:9,fill:legendColors[k]},eg);
  const t=mk('text',{x:2207,y:cy+17,'font-size':48},eg);t.textContent=n;
});
</script>
</body></html>
